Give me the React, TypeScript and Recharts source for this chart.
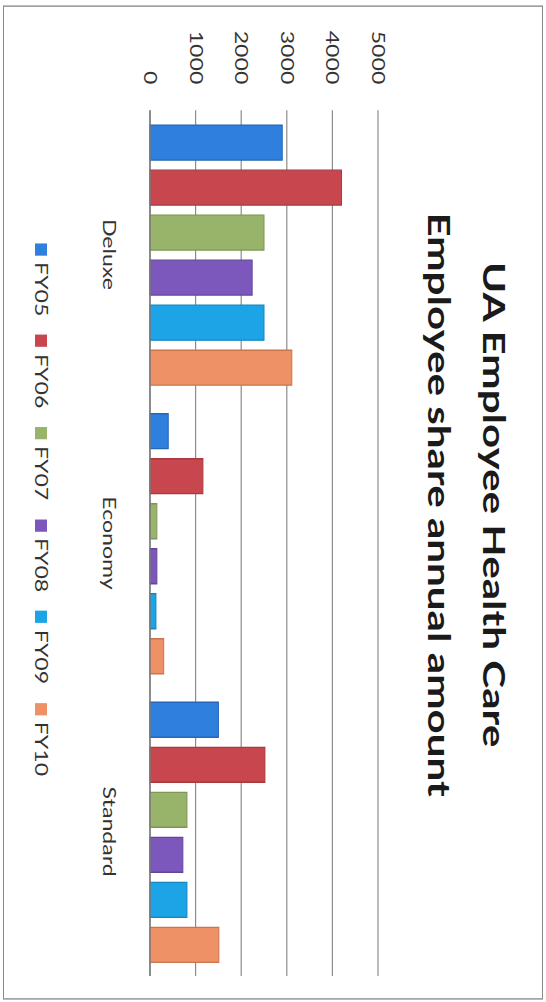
import React from 'react';
import { BarChart, Bar, XAxis, YAxis, CartesianGrid, Legend } from 'recharts';

const categories = ['Deluxe', 'Economy', 'Standard'];
const seriesNames = ['FY05', 'FY06', 'FY07', 'FY08', 'FY09', 'FY10'];
const fy05 = [2900, 400, 1500];
const fy06 = [4200, 1160, 2520];
const fy07 = [2500, 150, 810];
const fy08 = [2240, 150, 720];
const fy09 = [2500, 130, 810];
const fy10 = [3110, 300, 1510];
const valueTicks = [0, 1000, 2000, 3000, 4000, 5000];
const titleLines = ['UA Employee Health Care', 'Employee share annual amount'];

const seriesValues = [fy05, fy06, fy07, fy08, fy09, fy10];
const colors = ['#2f80de', '#c8474e', '#98b36a', '#7c58bd', '#1ca4e6', '#ee9166'];
const strokes = ['#2566b8', '#a63a40', '#7d9655', '#62459b', '#1585bd', '#c9764f'];

const data = categories.map((c, i) => {
  const row: Record<string, string | number> = { category: c };
  seriesNames.forEach((s, j) => {
    row[s] = seriesValues[j][i];
  });
  return row;
});

const S = 1.36; // horizontal stretch of the scanned image
const W = 737;
const H = 546;
const FONT = 'Lato, "Open Sans", sans-serif';

const LegendContent = () => (
  <div style={{ position: 'relative', width: W, height: 20, fontFamily: FONT }}>
    {seriesNames.map((s, i) => (
      <div
        key={s}
        style={{
          position: 'absolute',
          left: 178.7 + i * 67.6,
          top: 0,
          display: 'flex',
          alignItems: 'flex-start',
          whiteSpace: 'nowrap',
        }}
      >
        <div style={{ width: 9, height: 12, marginTop: 3, background: colors[i], marginRight: 5 }} />
        <span style={{ fontSize: 17, lineHeight: '17px', color: '#333' }}>{s}</span>
      </div>
    ))}
  </div>
);

export default function App() {
  return (
    <div style={{ position: 'absolute', left: 0, top: 0, width: 546, height: 1002, overflow: 'hidden', background: '#fff' }}>
      <div
        style={{
          position: 'absolute',
          left: 0,
          top: 0,
          width: W,
          height: H,
          transformOrigin: '0 0',
          transform: `translateX(546px) rotate(90deg) scaleX(${S})`,
          fontFamily: FONT,
        }}
      >
        <div
          style={{
            position: 'absolute',
            left: 3.7,
            top: 3,
            width: 731,
            height: 540,
            border: '1px solid #8a8a8a',
            boxSizing: 'border-box',
          }}
        />
        <div
          style={{
            position: 'absolute',
            left: 0,
            top: 24,
            width: 742,
            textAlign: 'center',
            fontSize: 31,
            fontWeight: 700,
            lineHeight: '55px',
            color: '#1a1a1a',
            fontFamily: FONT,
          }}
        >
          {titleLines.map((t) => (
            <div key={t}>{t}</div>
          ))}
        </div>
        <BarChart
          width={W}
          height={H}
          data={data}
          margin={{ top: 168, right: 19.4, left: 0, bottom: 120 }}
          barSize={25.7}
          barGap={7.4}
        >
          <CartesianGrid vertical={false} stroke="#8c8c8c" strokeWidth={1.2} />
          <XAxis
            dataKey="category"
            height={30}
            axisLine={{ stroke: '#7a7a7a', strokeWidth: 1.4 }}
            tickLine={false}
            tickSize={6}
            tickMargin={29}
            tick={{ fontSize: 17, fill: '#333', fontFamily: FONT }}
            interval={0}
          />
          <YAxis
            width={81}
            domain={[0, 5000]}
            ticks={valueTicks}
            axisLine={false}
            tickLine={false}
            tickSize={6}
            tickMargin={13}
            tick={{ fontSize: 17, fill: '#333', fontFamily: FONT }}
            interval={0}
          />
          <Legend
            verticalAlign="middle"
            layout="horizontal"
            align="center"
            wrapperStyle={{ left: 0, top: 496, width: W }}
            content={() => <LegendContent />}
          />
          {seriesNames.map((s, i) => (
            <Bar key={s} dataKey={s} fill={colors[i]} stroke={strokes[i]} strokeWidth={1} isAnimationActive={false} />
          ))}
        </BarChart>
      </div>
    </div>
  );
}
